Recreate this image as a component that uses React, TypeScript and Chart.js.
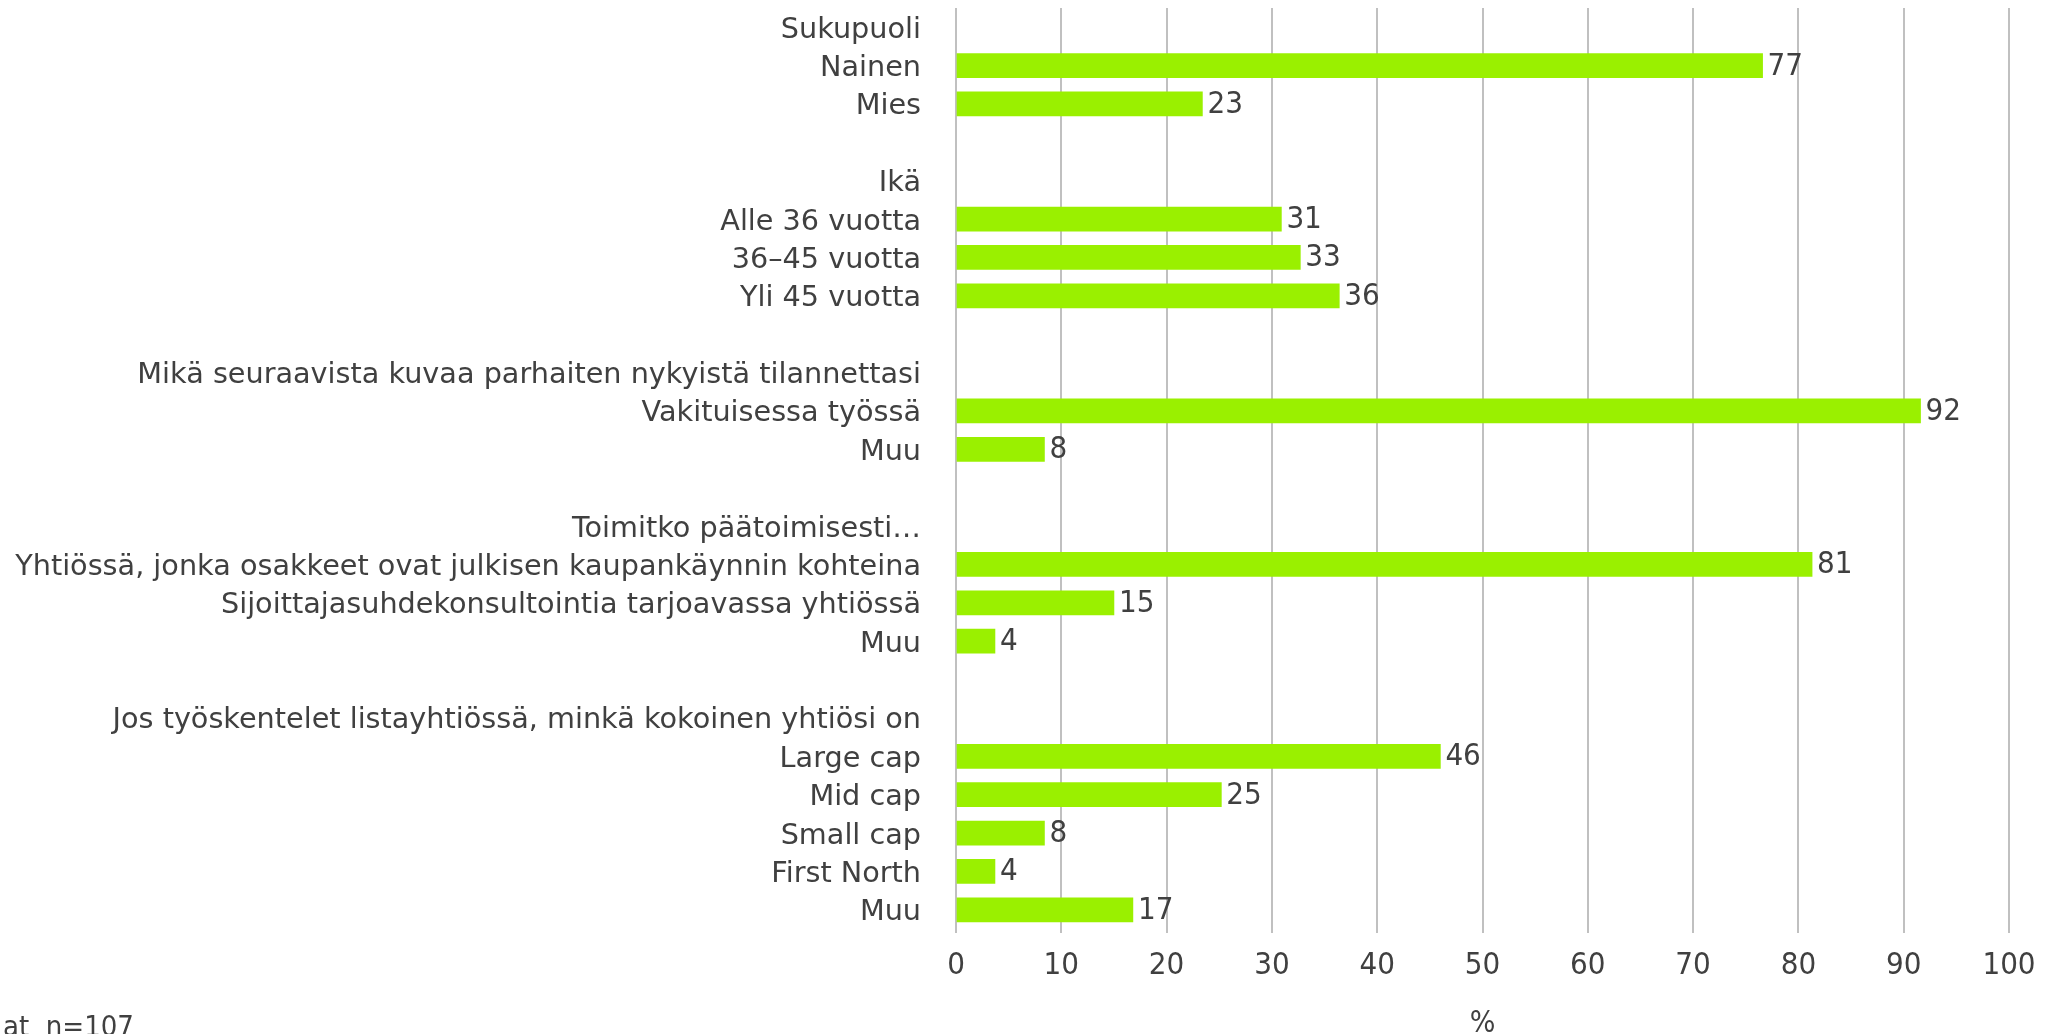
import React, { useEffect, useRef } from "react";
import { Chart, registerables } from "chart.js";

Chart.register(...registerables);

// ---- data ----
const categories: string[] = [
  "Sukupuoli",
  "Nainen",
  "Mies",
  "",
  "Ikä",
  "Alle 36 vuotta",
  "36–45 vuotta",
  "Yli 45 vuotta",
  "",
  "Mikä seuraavista kuvaa parhaiten nykyistä tilannettasi",
  "Vakituisessa työssä",
  "Muu",
  "",
  "Toimitko päätoimisesti…",
  "Yhtiössä, jonka osakkeet ovat julkisen kaupankäynnin kohteina",
  "Sijoittajasuhdekonsultointia tarjoavassa yhtiössä",
  "Muu",
  "",
  "Jos työskentelet listayhtiössä, minkä kokoinen yhtiösi on",
  "Large cap",
  "Mid cap",
  "Small cap",
  "First North",
  "Muu",
];

const values: (number | null)[] = [
  null, 76.6, 23.4,
  null,
  null, 30.9, 32.7, 36.4,
  null,
  null, 91.6, 8.4,
  null,
  null, 81.3, 15.0, 3.7,
  null,
  null, 46.0, 25.2, 8.4, 3.7, 16.8,
];

const xMin = 0;
const xMax = 100;
const xStep = 10;
const xTitle = "%";
const footnote = "at  n=107";

// ---- style ----
const FONT = "'DejaVu Sans', sans-serif";
const FONT_NUM = "'DejaVu Sans Condensed', 'DejaVu Sans', sans-serif";
const TEXT = "#404040";
const BAR = "#9af000";
const GRID = "#c0c0c0";

export default function App() {
  const ref = useRef<HTMLCanvasElement>(null);

  useEffect(() => {
    const canvas = ref.current;
    if (!canvas) return;

    const valueLabels = {
      id: "valueLabels",
      afterDatasetsDraw(chart: any) {
        const ctx = chart.ctx;
        const meta = chart.getDatasetMeta(0);
        ctx.save();
        ctx.font = `31px ${FONT_NUM}`;
        ctx.fillStyle = TEXT;
        ctx.textAlign = "left";
        ctx.textBaseline = "middle";
        meta.data.forEach((el: any, i: number) => {
          const v = values[i];
          if (v === null || v === undefined) return;
          ctx.fillText(String(Math.round(v)), el.x + 5, el.y + 1);
        });
        ctx.restore();
      },
    };

    const notePlugin = {
      id: "footnote",
      afterDraw(chart: any) {
        const ctx = chart.ctx;
        ctx.save();
        ctx.font = `29px ${FONT_NUM}`;
        ctx.fillStyle = TEXT;
        ctx.textAlign = "left";
        ctx.textBaseline = "alphabetic";
        ctx.fillText(footnote, 3, 1036);
        ctx.restore();
      },
    };

    const chart = new Chart(canvas, {
      type: "bar",
      data: {
        labels: categories,
        datasets: [
          {
            data: values as any,
            backgroundColor: BAR,
            borderWidth: 0,
            barThickness: 24,
          },
        ],
      },
      options: {
        indexAxis: "y",
        animation: false,
        responsive: false,
        maintainAspectRatio: false,
        layout: { padding: { left: 0, right: 47, top: 8, bottom: 0 } },
        plugins: {
          legend: { display: false },
          tooltip: { enabled: false },
        },
        scales: {
          x: {
            type: "linear",
            position: "bottom",
            min: xMin,
            max: xMax,
            ticks: {
              stepSize: xStep,
              padding: 14,
              color: TEXT,
              font: { family: FONT_NUM, size: 31 },
            },
            grid: {
              color: GRID,
              lineWidth: 2,
              drawTicks: true,
              tickLength: 4,
            },
            border: { display: false },
            title: {
              display: true,
              text: xTitle,
              color: TEXT,
              font: { family: FONT_NUM, size: 30 },
              padding: { top: 0, bottom: -8 },
            },
            afterFit: (s: any) => {
              s.height = 105;
            },
          },
          y: {
            type: "category",
            ticks: {
              autoSkip: false,
              padding: 35,
              labelOffset: 3,
              color: TEXT,
              font: { family: FONT, size: 28.7 },
            },
            grid: { display: false, drawTicks: false },
            border: { display: false },
            afterFit: (s: any) => {
              s.width = 956;
              s.paddingTop = 0;
              s.paddingBottom = 0;
            },
          },
        },
      },
      plugins: [valueLabels, notePlugin],
    } as any);

    return () => chart.destroy();
  }, []);

  return (
    <canvas
      ref={ref}
      width={2056}
      height={1034}
      style={{ position: "absolute", left: 0, top: 0, width: 2056, height: 1034 }}
    />
  );
}
